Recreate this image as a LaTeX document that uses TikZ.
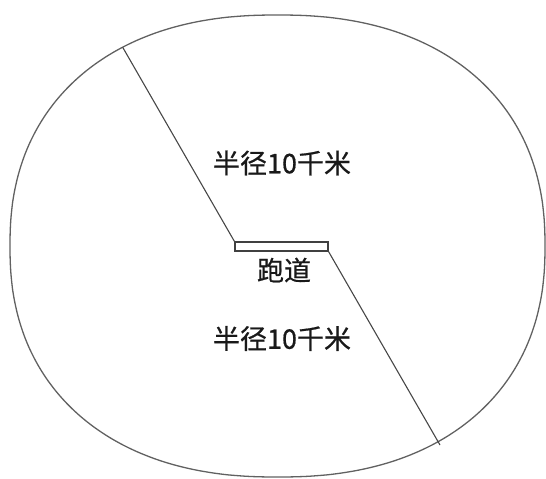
\documentclass[tikz,border=0pt]{standalone}
\usepackage{fontspec}
\newfontfamily\cjk[FakeBold=0.6]{Noto Sans CJK SC}
\begin{document}
\begin{tikzpicture}[x=1pt,y=-1pt,
  outline/.style={draw=black!62, line width=1.3pt},
  ray/.style={draw=black!72, line width=1.1pt},
  runway/.style={draw=black!75, line width=1.1pt, fill=white, minimum width=93pt, minimum height=9pt, inner sep=0pt},
  lbl/.style={font=\cjk\fontsize{27}{30}\selectfont, text=black!90, inner sep=0pt}]
\useasboundingbox (0,0) rectangle (546,479);
% field boundary (slightly squarish oval)
\draw[outline] plot[domain=0.75:360.75, samples=241, smooth cycle]
  ({277.5+267.5*sign(cos(\x))*exp(0.881*ln(abs(cos(\x))))},
   {246+231*sign(sin(\x))*exp(0.881*ln(abs(sin(\x))))});
\node[runway] (rw) at (281.5,246.5) {};
\coordinate (a) at (122.7,47.3);
\coordinate (b) at (440,445);
\draw[ray] (a) -- (rw.north west);
\draw[ray] (rw.south east) -- (b);
\node[lbl] (r1) at (282,163) {半径10千米};
\node[lbl] (rl) at (284,270) {跑道};
\node[lbl] (r2) at (282,338.5) {半径10千米};
\end{tikzpicture}
\end{document}
